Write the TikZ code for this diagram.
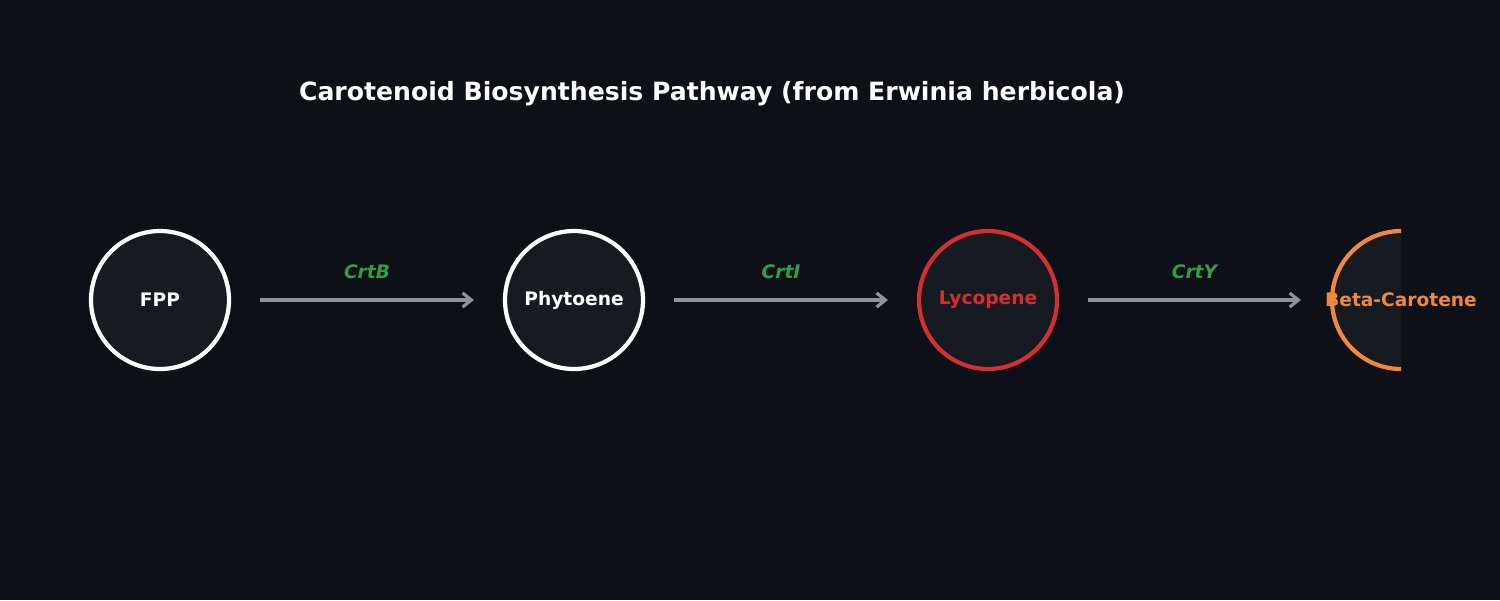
\documentclass[tikz,border=0pt]{standalone}
\usepackage{fontspec}
\setmainfont{DejaVu Sans}
\usetikzlibrary{arrows.meta}
\definecolor{bgdark}{HTML}{0D1117}
\definecolor{nodefill}{HTML}{161B22}
\definecolor{lycred}{HTML}{D32F2F}
\definecolor{carorange}{HTML}{F0883E}
\definecolor{enzgreen}{HTML}{2EA043}
\definecolor{arrgray}{HTML}{8B949E}
\begin{document}
\begin{tikzpicture}[x=0.02cm, y=-0.02cm,
  mol/.style={circle, minimum size=2.76cm, inner sep=0pt, line width=2.4pt, fill=nodefill,
    font=\fontsize{10.6}{12}\selectfont\bfseries},
  reaction/.style={-{Straight Barb[length=5pt,width=8pt]}, line width=1.8pt, draw=arrgray,
    shorten <=0.58cm, shorten >=0.58cm},
  enzyme/.style={text=enzgreen, font=\fontsize{10.6}{12}\selectfont\bfseries\itshape}]

\useasboundingbox[fill=bgdark] (0,0) rectangle (1500,600);

\node[text=white, font=\fontsize{14.3}{17}\selectfont\bfseries] (title) at (712,94)
{Carotenoid Biosynthesis Pathway (from Erwinia herbicola)};

\node[mol, draw=white, text=white] (FPP) at (160,300) {FPP};
\node[mol, draw=white, text=white] (PHY) at (574,300) {Phytoene};
\node[mol, draw=lycred, text=lycred] (LYC) at (988,300) {Lycopene};
\begin{scope}
\clip (1300,200) rectangle (1401,400);
\node[mol, draw=carorange] (BC) at (1401,300) {};
\end{scope}
\node[text=carorange, font=\fontsize{10.6}{12}\selectfont\bfseries] (BCtext) at (BC) {Beta-Carotene};

\draw[reaction] (FPP.east) -- (PHY.west) node[enzyme, midway, above=0.28cm] (B) {CrtB};
\draw[reaction] (PHY.east) -- (LYC.west) node[enzyme, midway, above=0.28cm] (I) {CrtI};
\draw[reaction] (LYC.east) -- (BC.west) node[enzyme, midway, above=0.28cm] (Y) {CrtY};
\end{tikzpicture}
\end{document}
